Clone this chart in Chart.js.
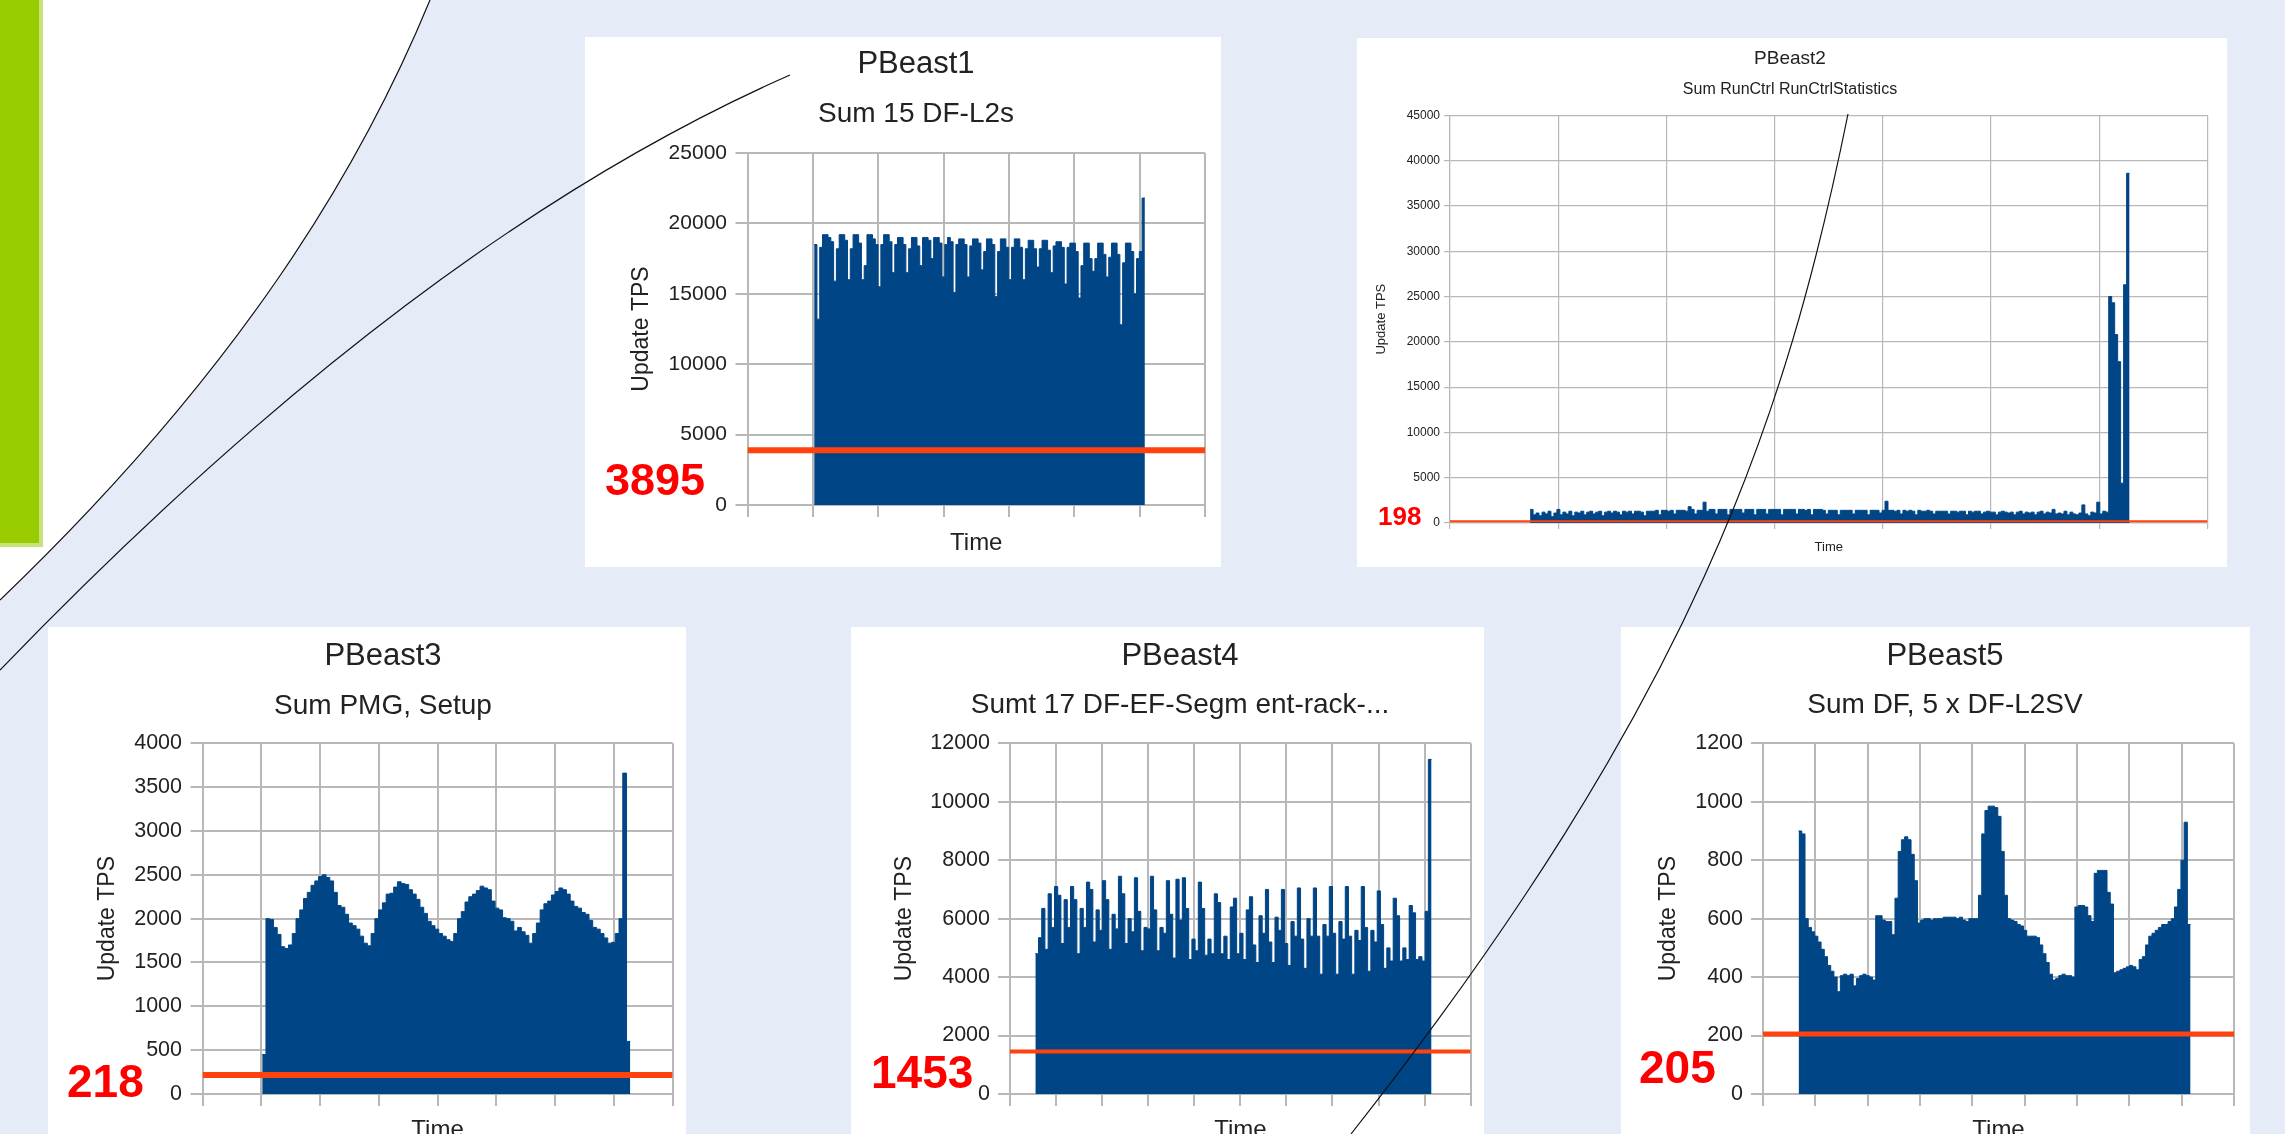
<!DOCTYPE html>
<html>
<head>
<meta charset="utf-8">
<title>PBeast update rates</title>
<script src="https://cdn.jsdelivr.net/npm/chart.js@4.4.1/dist/chart.umd.min.js"></script>
<style>
    html, body { margin: 0; padding: 0; }
    body {
        width: 2285px; height: 1134px; overflow: hidden; position: relative;
        background: #e6ecf7; font-family: "Liberation Sans", Arial, sans-serif;
    }
    .deco { position: absolute; left: 0; top: 0; }
    .panel { position: absolute; background: #fff; }
    canvas { position: absolute; }
    .limit { position: absolute; color: #ff0000; font-weight: bold; line-height: 1; white-space: nowrap; }
</style>
</head>
<body>
<svg class="deco" width="2285" height="1134" style="z-index:0">
    <path d="M0 0 L430 0 C360 170 240 370 0 600 Z" fill="#ffffff"/>
    <rect x="0" y="0" width="43" height="547" fill="#c8e27a"/>
    <rect x="0" y="0" width="39" height="543" fill="#99cc00"/>
</svg>
<div id="charts"></div>
<svg class="deco" width="2285" height="1134" style="z-index:10;pointer-events:none">
    <g fill="none" stroke="#111" stroke-width="1.2">
        <path d="M430 0 C360 170 240 370 0 600"/>
        <path d="M790 75 C540 185 280 380 0 670"/>
        <path d="M1848 114 C1786 420 1693 700 1351 1134"/>
    </g>
</svg>
<script>
// Update TPS per time bin
const pb1Tps = [
    18500, 13200, 18300, 19200, 19200, 19000, 18700, 15900, 18200, 19200,
    19200, 18800, 16000, 18200, 19200, 19200, 18600, 16000, 17000, 19200,
    19200, 18900, 18500, 15500, 18500, 19200, 19200, 18700, 16500, 18500,
    19000, 19000, 18500, 16500, 18200, 19000, 19000, 18400, 17000, 19000,
    19000, 18800, 17500, 19000, 19000, 18600, 16200, 18500, 19000, 18700,
    15100, 18500, 18900, 18900, 18500, 16200, 18400, 18900, 18900, 18600,
    16700, 18000, 18900, 18900, 18500, 14800, 18000, 18900, 18900, 18300,
    16000, 18300, 18900, 18900, 18300, 16000, 18200, 18800, 18800, 18200,
    16900, 18200, 18800, 18800, 18100, 16500, 18400, 18700, 18700, 18300,
    15700, 18300, 18600, 18600, 18000, 14700, 17000, 18600, 18600, 17500,
    16600, 17500, 18600, 18600, 17800, 16200, 17600, 18600, 18600, 17800,
    12800, 17200, 18600, 18600, 18000, 15000, 17500, 18000, 21800
];
const pb2Tps = [
    1500, 900, 1100, 800, 1200, 1000, 1300, 700, 1100, 1500,
    900, 1200, 1000, 1300, 800, 1200, 1100, 1300, 900, 1200,
    1300, 1000, 1200, 1300, 800, 1200, 1300, 1100, 1300, 1200,
    900, 1300, 1200, 1300, 1000, 1300, 1300, 1200, 800, 1300,
    1300, 1300, 1400, 900, 1400, 1400, 1300, 1400, 1000, 1400,
    1400, 1400, 1300, 1800, 1500, 1000, 1400, 1400, 2300, 1300,
    1500, 1500, 1000, 1500, 1500, 1500, 900, 1500, 1500, 1500,
    1500, 1100, 1500, 1500, 1500, 900, 1500, 1500, 1500, 1000,
    1500, 1500, 1500, 1500, 900, 1500, 1500, 1500, 1500, 1000,
    1500, 1500, 1400, 1500, 900, 1500, 1500, 1500, 1400, 1000,
    1400, 1400, 1400, 900, 1400, 1400, 1400, 1400, 1000, 1400,
    1400, 1400, 1400, 900, 1400, 1400, 1400, 1100, 1400, 2400,
    1400, 1400, 1300, 1400, 1000, 1400, 1300, 1400, 1300, 900,
    1400, 1300, 1300, 1400, 1300, 1000, 1300, 1300, 1300, 1300,
    1000, 1300, 1300, 1200, 1300, 1300, 900, 1300, 1200, 1300,
    1300, 1000, 1200, 1300, 1200, 1200, 900, 1200, 1300, 1200,
    1100, 1200, 900, 1200, 1300, 1000, 1200, 1100, 1200, 900,
    1200, 1300, 1000, 1200, 1100, 1500, 1000, 1100, 1000, 1300,
    900, 1200, 1000, 900, 1100, 2000, 1000, 800, 1200, 1100,
    2300, 1000, 1300, 1200, 25000, 24300, 20800, 17800, 4400, 26300,
    38600
];
const pb3Tps = [
    450, 2000, 1990, 1900, 1820, 1680, 1660, 1700, 1830, 2000,
    2100, 2230, 2300, 2380, 2430, 2480, 2500, 2470, 2430, 2300,
    2150, 2130, 2050, 1950, 1920, 1880, 1800, 1720, 1690, 1830,
    2000, 2100, 2180, 2280, 2290, 2360, 2420, 2400, 2390, 2330,
    2280, 2220, 2130, 2060, 1970, 1920, 1880, 1830, 1800, 1760,
    1740, 1830, 2000, 2080, 2190, 2250, 2280, 2320, 2370, 2350,
    2330, 2200, 2120, 2100, 2010, 2000, 1970, 1860, 1900, 1850,
    1810, 1720, 1830, 1950, 2100, 2170, 2200, 2270, 2310, 2350,
    2330, 2280, 2200, 2140, 2120, 2070, 2050, 1980, 1900, 1880,
    1830, 1780, 1720, 1730, 1830, 2000, 3660, 600
];
const pb4Tps = [
    4800, 5350, 6350, 4950, 6850, 5700, 7100, 6800, 5150, 6650,
    5700, 7100, 6650, 4800, 6350, 5700, 7250, 7000, 5200, 6300,
    5600, 7300, 6650, 4950, 6150, 5650, 7450, 6850, 5150, 6000,
    5550, 7400, 6250, 4900, 5700, 5650, 7450, 6300, 4900, 5700,
    5500, 7300, 6150, 4650, 7350, 5950, 7400, 6350, 4600, 5300,
    4900, 7250, 6350, 4750, 5300, 4800, 6850, 6550, 4800, 5400,
    4600, 6400, 6700, 4800, 5500, 4600, 6300, 6750, 5100, 4500,
    6100, 5500, 7000, 5200, 4500, 6050, 5600, 7000, 5150, 4400,
    5900, 5400, 7050, 5300, 4300, 6000, 5400, 7050, 5400, 4100,
    5800, 5400, 7100, 5500, 4100, 5900, 5300, 7100, 5400, 4100,
    5600, 5250, 7100, 5700, 4200, 5600, 5200, 6950, 5800, 4300,
    5000, 4550, 6700, 6100, 4550, 5000, 4600, 6450, 6200, 4600,
    4700, 4550, 6250, 11450
];
const pb5Tps = [
    900, 890, 600, 570, 555, 540, 520, 495, 470, 440,
    420, 400, 350, 405, 410, 405, 410, 370, 395, 405,
    410, 405, 400, 390, 610, 610, 595, 590, 590, 545,
    670, 830, 870, 880, 870, 820, 730, 585, 595, 600,
    600, 595, 600, 600, 600, 605, 605, 605, 605, 600,
    605, 595, 590, 600, 600, 600, 680, 890, 970, 985,
    985, 980, 950, 830, 680, 600, 595, 590, 580, 575,
    560, 540, 540, 540, 535, 510, 480, 450, 410, 390,
    395, 405, 410, 405, 405, 400, 640, 645, 645, 640,
    610, 590, 755, 765, 765, 765, 690, 650, 415, 420,
    425, 430, 435, 440, 435, 425, 460, 470, 510, 540,
    550, 560, 570, 580, 580, 590, 600, 640, 700, 800,
    930, 580
];

const chartTitles = ["PBeast1", "PBeast2", "PBeast3", "PBeast4", "PBeast5"];
const chartSubtitles = ["Sum 15 DF-L2s", "Sum RunCtrl RunCtrlStatistics", "Sum PMG, Setup", "Sumt 17 DF-EF-Segm ent-rack-...", "Sum DF, 5 x DF-L2SV"];
const limitValues = [3895, 198, 218, 1453, 205];
const yMax = [25000, 45000, 4000, 12000, 1200];
const yStep = [5000, 5000, 500, 2000, 200];
const timeSlots = [7, 7, 8, 10, 9];      // time grid columns
const dataFrom = [1.02, 0.74, 1.016, 0.55, 0.68];
const dataTo = [6.08, 6.28, 7.28, 9.15, 8.17];
const series = [pb1Tps, pb2Tps, pb3Tps, pb4Tps, pb5Tps];

const FONT = '"Liberation Sans", Arial, sans-serif';
const BAR_BLUE = "#004586";
const LIMIT_RED = "#ff420e";
const TEXT = "#222222";

// page geometry: white panel, canvas box, plot box inside canvas (left, top, right, bottom)
const panels = [[585, 37, 636, 530], [1357, 38, 870, 529], [48, 627, 638, 520], [851, 627, 633, 520], [1621, 627, 629, 520]];
const layout = [
    { left: 585, top: 37, w: 662, h: 530, plot: [162.5, 116, 620, 468], title: [31, 27], sub: [28, 77], tick: 21, tickLen: 12, tickPad: 8.5, yTitle: [23, 57], time: [24, 506], grid: 2, limitW: 6, label: [605, 479, 45] },
    { left: 1357, top: 38, w: 866, h: 529, plot: [93, 77.3, 850.5, 485], title: [19, 21], sub: [16, 52], tick: 12, tickLen: 6, tickPad: 4, yTitle: [13, 24], time: [13, 509.5], grid: 1.2, limitW: 2, label: [1378, 516, 26] },
    { left: 48, top: 627, w: 670, h: 520, plot: [154.5, 116.3, 624.6, 467], title: [31, 29], sub: [28, 79], tick: 21.5, tickLen: 12, tickPad: 8.5, yTitle: [23, 60], time: [24, 503], grid: 2, limitW: 6, label: [67, 1080.7, 46] },
    { left: 851, top: 627, w: 658, h: 520, plot: [159, 116.3, 619.7, 467], title: [31, 29.5], sub: [28, 78], tick: 21.5, tickLen: 12, tickPad: 8, yTitle: [23, 54], time: [24, 503], grid: 2, limitW: 4, label: [871, 1071.7, 46] },
    { left: 1621, top: 627, w: 648, h: 520, plot: [142, 116.3, 613, 467], title: [31, 29.5], sub: [28, 78], tick: 21.5, tickLen: 12, tickPad: 8, yTitle: [23, 48], time: [24, 503], grid: 2, limitW: 5, label: [1639, 1066.7, 46] }
];

// each value covers one time bin; last point closes the final bin
const stepSeries = (values, from, to) => {
    const bin = (to - from) / values.length;
    const pts = values.map((v, i) => ({ x: from + i * bin, y: v }));
    pts.push({ x: to, y: values[values.length - 1] });
    return pts;
};

const holder = document.getElementById("charts");

const makeChart = (i) => {
    const g = layout[i];
    const [pl, pt, pr, pb] = g.plot;
    const p = panels[i];

    const panel = document.createElement("div");
    panel.className = "panel";
    panel.style.cssText = `left:${p[0]}px;top:${p[1]}px;width:${p[2]}px;height:${p[3]}px;z-index:1`;
    holder.appendChild(panel);

    const canvas = document.createElement("canvas");
    canvas.width = g.w;
    canvas.height = g.h;
    canvas.style.cssText = `left:${g.left}px;top:${g.top}px;z-index:2`;
    holder.appendChild(canvas);

    const label = document.createElement("div");
    label.className = "limit";
    label.textContent = limitValues[i];
    label.style.cssText = `left:${g.label[0]}px;top:${g.label[1] - 0.49 * g.label[2]}px;font-size:${g.label[2]}px;z-index:3`;
    holder.appendChild(label);

    const lhT = g.title[0] * 1.2, lhS = g.sub[0] * 1.2;
    const subTop = g.sub[1] - lhS / 2;
    const gridColor = "#b8b8b8";

    new Chart(canvas, {
        type: "line",
        data: {
            datasets: [
                {
                    data: [{ x: 0, y: limitValues[i] }, { x: timeSlots[i], y: limitValues[i] }],
                    borderColor: LIMIT_RED,
                    borderWidth: g.limitW,
                    pointRadius: 0,
                    fill: false,
                    order: 0
                },
                {
                    data: stepSeries(series[i], dataFrom[i], dataTo[i]),
                    stepped: true,
                    fill: "origin",
                    backgroundColor: BAR_BLUE,
                    borderColor: BAR_BLUE,
                    borderWidth: 1,
                    pointRadius: 0,
                    order: 1
                }
            ]
        },
        options: {
            responsive: false,
            animation: false,
            events: [],
            layout: { padding: 0 },
            plugins: {
                legend: { display: false },
                tooltip: { enabled: false },
                title: {
                    display: true, text: chartTitles[i], color: TEXT,
                    font: { family: FONT, size: g.title[0], weight: "normal" },
                    padding: { top: g.title[1] - lhT / 2, bottom: subTop - g.title[1] - lhT / 2 }
                },
                subtitle: {
                    display: true, text: chartSubtitles[i], color: TEXT,
                    font: { family: FONT, size: g.sub[0], weight: "normal" },
                    padding: { top: 0, bottom: pt - g.sub[1] - lhS / 2 }
                }
            },
            scales: {
                x: {
                    type: "linear", min: 0, max: timeSlots[i],
                    ticks: { display: false, stepSize: 1 },
                    grid: { color: gridColor, lineWidth: g.grid, tickLength: g.tickLen },
                    border: { color: gridColor, width: g.grid },
                    title: {
                        display: true, text: "Time", color: TEXT,
                        font: { family: FONT, size: g.time[0] },
                        padding: { top: 0, bottom: g.h - g.time[1] - g.time[0] * 0.6 }
                    },
                    afterFit: (scale) => { scale.height = g.h - pb; }
                },
                y: {
                    type: "linear", min: 0, max: yMax[i],
                    ticks: {
                        stepSize: yStep[i], color: TEXT, padding: g.tickPad,
                        font: { family: FONT, size: g.tick },
                        callback: (v) => String(v)
                    },
                    grid: { color: gridColor, lineWidth: g.grid, tickLength: g.tickLen },
                    border: { color: gridColor, width: g.grid },
                    title: {
                        display: true, text: "Update TPS", color: TEXT,
                        font: { family: FONT, size: g.yTitle[0] },
                        padding: { top: g.yTitle[1] - g.yTitle[0] * 0.6, bottom: 0 }
                    },
                    afterFit: (scale) => { scale.width = pl; }
                },
                spare: {
                    type: "linear", position: "right",
                    grid: { display: false }, border: { display: false }, ticks: { display: false },
                    afterFit: (scale) => { scale.width = g.w - pr; }
                }
            }
        }
    });
};

series.forEach((s, i) => makeChart(i));
</script>
</body>
</html>
